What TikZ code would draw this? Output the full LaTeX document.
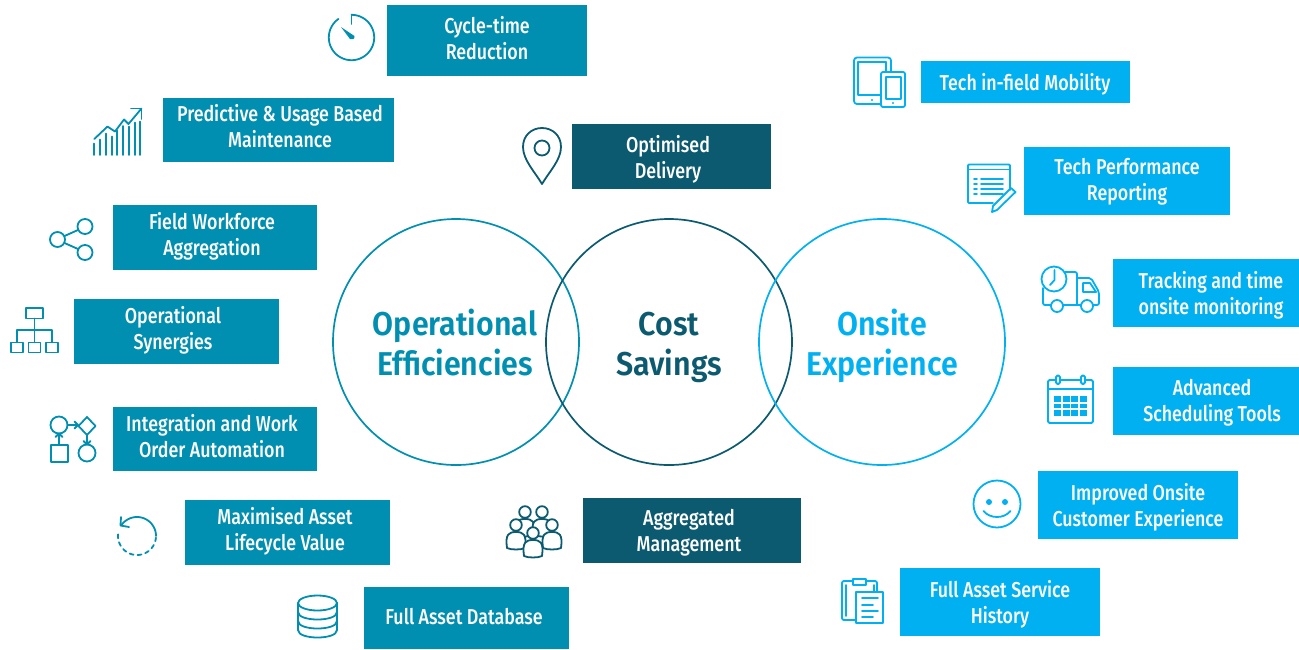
\documentclass[tikz,border=0pt]{standalone}
\usepackage{fontspec}
\setmainfont{Fira Sans Medium}[FakeStretch=0.83]
\newfontfamily\ttlfont{Fira Sans SemiBold}[FakeStretch=0.92]
\definecolor{teal}{HTML}{008FB0}
\definecolor{deep}{HTML}{0B5A70}
\definecolor{sky}{HTML}{00B0F0}
\newcommand{\lblbox}[9]{%
  \fill[#6] (#2,#3) rectangle (#4,#5);
  \node[lbl] (#1) at (#7,#8) {#9};}
\newcommand{\arcp}[6][]{\draw[#1] plot[domain=#4:#5,samples=#6] ({#2+\rr*cos(\x)},{#3-\rr*sin(\x)});}
\newcommand{\person}[2]{%
  \fill[white,draw=deep] (#1-9,#2+23) .. controls (#1-11,#2+9) and (#1-7,#2+7) .. (#1,#2+7) .. controls (#1+7,#2+7) and (#1+11,#2+9) .. (#1+9,#2+23) .. controls (#1+5,#2+25) and (#1-5,#2+25) .. (#1-9,#2+23) -- cycle;
  \fill[white,draw=deep] (#1,#2) circle (5.8);}
\tikzset{
  lbl/.style={text=white,align=center,font=\fontsize{21.5}{26}\selectfont,inner sep=0pt,yshift=1pt},
  ring/.style={circle,draw,line width=1.7pt,minimum size=246pt,inner sep=0pt},
  title/.style={align=center,font=\ttlfont\fontsize{33}{40}\selectfont,inner sep=0pt},
  ic/.style={line width=1.8pt,line join=round,line cap=round}
}
\begin{document}
\begin{tikzpicture}[x=1pt,y=-1pt]
\useasboundingbox (0,0) rectangle (1299,649);
% rings
\node[ring,draw=teal] (opsring) at (456,342) {};
\node[ring,draw=deep] (costring) at (669,342) {};
\node[ring,draw=sky] (siterring) at (882,342) {};
\node[title,text=teal] (opst) at (455,343) {Operational\\Efficiencies};
\node[title,text=deep] (costt) at (669,347) {Cost\\Savings};
\node[title,text=sky] (sitet) at (882,346) {Onsite\\Experience};
% boxes
\lblbox{b1}{387}{5}{587}{76}{teal}{487}{39}{Cycle-time\\Reduction}
\lblbox{b2}{163}{98}{394}{162}{teal}{280}{127}{Predictive \& Usage Based\\Maintenance}
\lblbox{b3}{572}{124}{771}{189}{deep}{668}{160}{Optimised\\Delivery}
\lblbox{b4}{113}{205}{317}{270}{teal}{212}{237}{Field Workforce\\Aggregation}
\lblbox{b5}{74}{299}{279}{364}{teal}{173}{331}{Operational\\Synergies}
\lblbox{b6}{113}{407}{317}{471}{teal}{212}{437}{Integration and Work\\Order Automation}
\lblbox{b7}{185}{500}{390}{565}{teal}{285}{532}{Maximised Asset\\Lifecycle Value}
\lblbox{b8}{364}{587}{569}{649}{teal}{464}{618}{Full Asset Database}
\lblbox{b9}{583}{498}{801}{563}{deep}{689}{534}{Aggregated\\Management}
\lblbox{b10}{921}{61}{1130}{103}{sky}{1025}{85}{Tech in-field Mobility}
\lblbox{b11}{1024}{147}{1230}{215}{sky}{1127}{183}{Tech Performance\\Reporting}
\lblbox{b12}{1113}{259}{1299}{327}{sky}{1211}{296}{Tracking and time\\onsite monitoring}
\lblbox{b13}{1113}{367}{1299}{435}{sky}{1212}{404}{Advanced\\Scheduling Tools}
\lblbox{b14}{1038}{471}{1238}{539}{sky}{1138}{508}{Improved Onsite\\Customer Experience}
\lblbox{b15}{900}{568}{1100}{636}{sky}{1000}{605}{Full Asset Service\\History}
% stopwatch
\begin{scope}[ic,draw=teal]
\def\rr{22.7}
\arcp{351.5}{37.5}{-235}{90}{60}
\draw (351.5,14.8) -- (351.5,24);
\fill[teal] (341,27) -- (354.5,36) .. controls (355,39) and (352,40.5) .. (350,39) -- cycle;
% chart
\foreach \px/\py in {94.3/143.5,100/139.5,106/133.5,111.7/136.5,117.3/130.5,122.7/126,128.7/126.5,134.7/122.5,140.3/121.5}
  \draw (\px,155) -- (\px,\py);
\draw (94.3,139) -- (107.5,126.5) -- (115,131.5) -- (124,119.5) -- (128.5,124) -- (141.5,108.5);
\draw (131,108.5) -- (141.5,108.5) -- (141.5,119);
% share
\draw (57.5,239.5) circle (7.5);
\draw (85,226.5) circle (7.5);
\draw (85,252.5) circle (7.5);
\draw (64.5,236) -- (78,230);
\draw (64.5,243) -- (78,249);
% org
\draw (26,308) rectangle (43,318.5);
\draw (34.5,318.5) -- (34.5,342.5);
\draw (17,342.5) -- (17,330) -- (52,330) -- (52,342.5);
\draw (11,342.5) rectangle (23,352.5);
\draw (28.5,342.5) rectangle (40.5,352.5);
\draw (46,342.5) rectangle (58,352.5);
% flow
\draw (59,425) circle (8.5);
\draw (87,417) -- (95.5,426) -- (87,435) -- (78.5,426) -- cycle;
\draw (51,445) rectangle (68,462);
\draw (87,453) circle (8.5);
\draw (67.5,425) -- (78,425);
\draw (74.5,421.5) -- (78,425) -- (74.5,428.5);
\draw (87,435) -- (87,444.5);
\draw (83.5,441) -- (87,444.5) -- (90.5,441);
\draw (59,445) -- (59,433.5);
\draw (55.5,437) -- (59,433.5) -- (62.5,437);
% cycle
\def\rr{19}
\arcp{137}{536}{0}{145}{40}
\draw (121,517) -- (120.5,525.5) -- (129,527);
\arcp[dash pattern=on 4pt off 4pt]{137}{536}{175}{355}{40}
% db
\draw (298,603) -- (298,630) .. controls (298,640) and (337,640) .. (337,630) -- (337,603);
\draw (317.5,603) ellipse (19.5 and 7.5);
\draw (298,612) .. controls (298,622) and (337,622) .. (337,612);
\draw (298,621) .. controls (298,631) and (337,631) .. (337,621);
\end{scope}
% pin
\begin{scope}[ic,draw=deep]
\draw (542,184) .. controls (535,172) and (523,160) .. (523,147) .. controls (523,135) and (532,128) .. (542,128) .. controls (552,128) and (561,135) .. (561,147) .. controls (561,160) and (549,172) .. (542,184) -- cycle;
\draw (542,148) circle (7.5);
% people
\person{525}{512}
\person{542}{512}
\person{516}{525}
\person{552}{525}
\person{533}{533}
\end{scope}
\begin{scope}[ic,draw=sky]
% devices
\draw[rounded corners=3pt] (854,57.5) rectangle (891,104);
\draw (858,62) -- (886,62);
\draw (858,62) -- (858,95) -- (881,95);
\draw (886,62) -- (886,72);
\draw[rounded corners=2pt,fill=white] (881,72) rectangle (905,107);
\draw (886,77) rectangle (901,99);
\fill[sky] (872,100) circle (1.2);
\fill[sky] (893,103) circle (1.2);
% report
\draw[rounded corners=1pt] (1010,190) -- (1010,164.5) -- (968,164.5) -- (968,203) -- (993,203);
\draw (968,169.5) -- (1010,169.5);
\foreach \ly in {179,184,189,194}{
  \draw (974,\ly) -- (977,\ly);
  \draw (981,\ly) -- (1003,\ly);}
\draw (1011,188) -- (1015.5,192) -- (997,210) -- (992,212) -- (993,206) -- cycle;
% truck
\draw[rounded corners=2pt] (1043,288) -- (1043,305) -- (1051,305);
\draw (1063,305) -- (1081,305);
\draw[rounded corners=2pt] (1093,305) -- (1099,305) -- (1099,292) -- (1091,278) -- (1077,278);
\draw (1077,278) -- (1077,305);
\draw[rounded corners=2pt] (1065,272) -- (1077,272) -- (1077,278);
\draw (1083,283) -- (1090,283) -- (1096,292) -- (1083,292) -- cycle;
\draw (1054,279) circle (12.5);
\draw (1054.5,270) -- (1054.5,280) -- (1050,285);
\draw (1057,306) circle (6);
\draw (1087,306) circle (6);
% calendar
\draw[rounded corners=1.5pt] (1048,380) rectangle (1093,423);
\draw (1048,389) -- (1093,389);
\draw[rounded corners=1.5pt,fill=white] (1056,375.5) rectangle (1060,384);
\draw[rounded corners=1.5pt,fill=white] (1081,375.5) rectangle (1085,384);
\fill[sky] (1054,396) rectangle (1087,416);
\foreach \gx in {1062.25,1070.5,1078.75}
  \draw[white,line cap=butt] (\gx,396) -- (\gx,416);
\foreach \gy in {402.67,409.33}
  \draw[white,line cap=butt] (1054,\gy) -- (1087,\gy);
% smiley
\draw (997,504) circle (23.5);
\fill[sky] (989,502) circle (3);
\fill[sky] (1005,502) circle (3);
\draw[line width=1.8pt] (983.5,511) .. controls (990,519) and (1004,519) .. (1010.5,511);
% clipboard
\draw[rounded corners=2pt] (856,620) -- (842,620) -- (842,581) -- (877,581) -- (877,592);
\draw (846,585) -- (846,616);
\draw (874,585) -- (874,592);
\draw[fill=white] (856,592) rectangle (883,623);
\draw[fill=white] (853,579) rectangle (866,585);
\foreach \ly/\lx in {598/878,605/873,611/878,617/873}
  \draw (862,\ly) -- (\lx,\ly);
\end{scope}
\end{tikzpicture}
\end{document}
